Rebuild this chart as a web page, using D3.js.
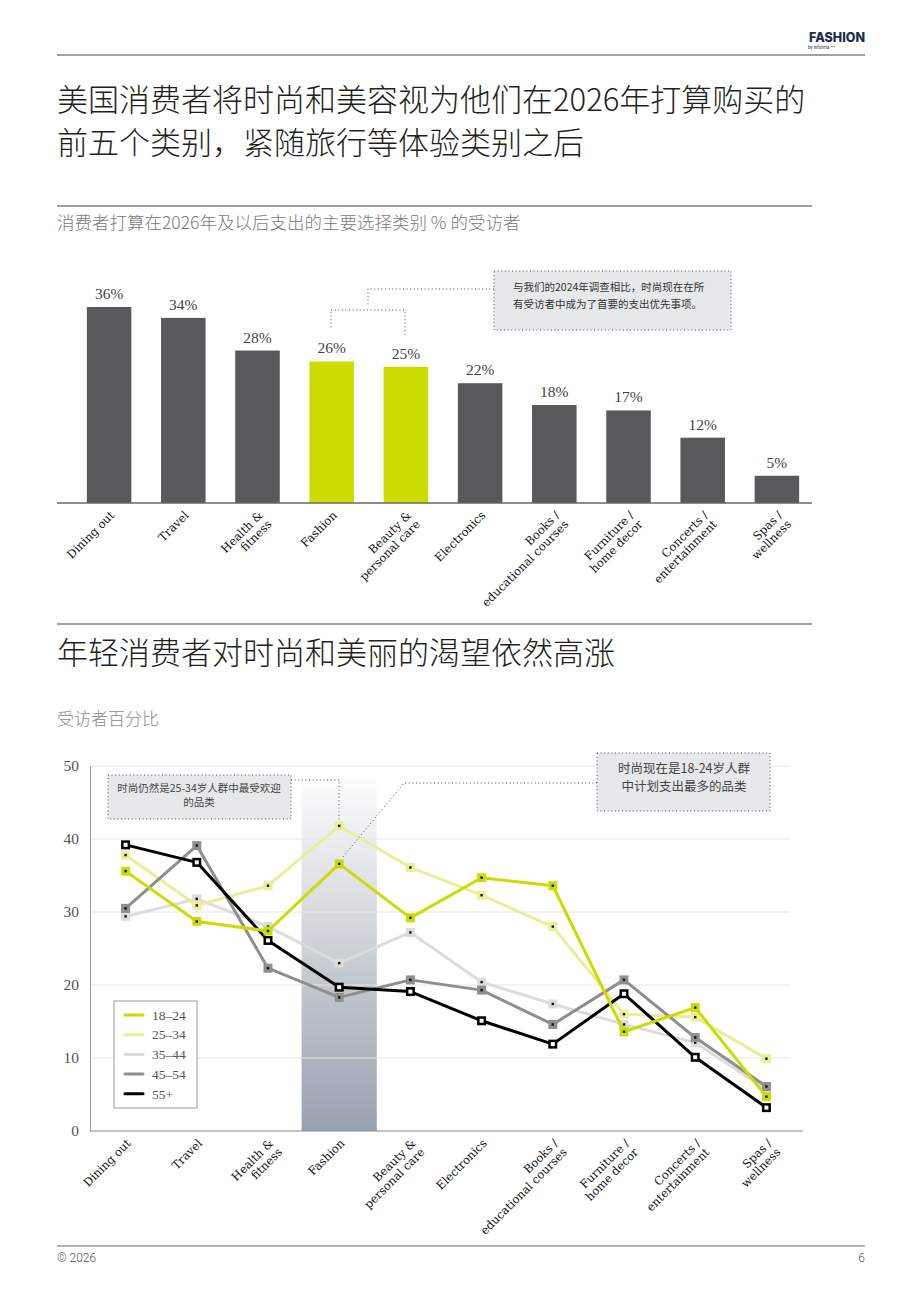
<!DOCTYPE html>
<html>
<head>
<meta charset="utf-8">
<script src="https://cdn.jsdelivr.net/npm/d3@7"></script>
<style>
  body { margin: 0; background: #fff; }
  svg { display: block; }
  .cjk { font-family: "Noto Sans CJK SC", "Noto Sans", sans-serif; }
  .serif { font-family: "Liberation Serif", serif; }
  .slab { font-family: "DejaVu Serif", serif; }
</style>
</head>
<body>
<div id="app"></div>
<script>
// data
var categories = ["Dining out", "Travel", "Health &\nfitness", "Fashion", "Beauty &\npersonal care",
  "Electronics", "Books /\neducational courses", "Furniture /\nhome decor", "Concerts /\nentertainment", "Spas /\nwellness"];
var barValues = [36, 34, 28, 26, 25, 22, 18, 17, 12, 5];
var highlighted = ["Fashion", "Beauty &\npersonal care"];

var ageGroups = ["18–24", "25–34", "35–44", "45–54", "55+"];
var s18to24 = [35.6, 28.7, 27.4, 36.6, 29.2, 34.7, 33.6, 13.6, 16.9, 4.7];
var s25to34 = [37.8, 30.9, 33.6, 41.8, 36.1, 32.3, 28.0, 16.0, 15.6, 9.9];
var s35to44 = [29.4, 31.8, 28.0, 23.0, 27.2, 20.4, 17.4, 14.6, 12.1, 5.7];
var s45to54 = [30.5, 39.1, 22.3, 18.3, 20.7, 19.3, 14.6, 20.7, 12.8, 6.1];
var s55plus = [39.2, 36.8, 26.1, 19.7, 19.1, 15.1, 11.9, 18.8, 10.1, 3.2];
var yTicks = [0, 10, 20, 30, 40, 50];

var seriesColors = ["#cddc00", "#e8ef96", "#dcdcdc", "#8e8e8e", "#000000"];

var W = 920, H = 1302;
var svg = d3.select("#app").append("svg")
  .attr("width", W).attr("height", H);

// header
svg.append("line").attr("x1", 57).attr("x2", 865).attr("y1", 55).attr("y2", 55)
  .attr("stroke", "#444").attr("stroke-width", 1);
svg.append("text").attr("x", 865).attr("y", 42).attr("text-anchor", "end")
  .style("font-family", "Inter, Roboto, sans-serif").style("font-weight", 800)
  .style("font-size", "12.5px").attr("fill", "#1c2b4b").text("FASHION");
svg.append("text").attr("x", 808).attr("y", 48.5)
  .style("font-family", "Roboto, sans-serif").style("font-size", "4.5px")
  .attr("fill", "#1c2b4b").text("by informa \u2022\u2022\u2022");

// title 1
var title1 = ["美国消费者将时尚和美容视为他们在2026年打算购买的", "前五个类别，紧随旅行等体验类别之后"];
svg.append("text").attr("class", "cjk").attr("x", 57).attr("y", 111)
  .style("font-size", "31px").style("font-weight", 300).attr("fill", "#231f20")
  .selectAll("tspan").data(title1).join("tspan")
  .attr("x", 57).attr("dy", (d, i) => i ? 43 : 0).text(d => d);

svg.append("line").attr("x1", 57).attr("x2", 812).attr("y1", 206).attr("y2", 206)
  .attr("stroke", "#444");
svg.append("text").attr("class", "cjk").attr("x", 57).attr("y", 229)
  .style("font-size", "17.5px").style("font-weight", 300).attr("fill", "#7a7a7a")
  .text("消费者打算在2026年及以后支出的主要选择类别 % 的受访者");

// bar chart
var barBase = 503;
var xBar = d3.scaleBand().domain(categories).range([72, 814]).paddingInner(0.4).paddingOuter(0.2);
var yBar = d3.scaleLinear().domain([0, 36]).range([barBase, 307]);

var barG = svg.append("g");
barG.selectAll("rect").data(categories).join("rect")
  .attr("x", d => xBar(d))
  .attr("y", (d, i) => yBar(barValues[i]))
  .attr("width", xBar.bandwidth())
  .attr("height", (d, i) => barBase - yBar(barValues[i]))
  .attr("fill", d => highlighted.includes(d) ? "#cddc00" : "#58595b");

barG.selectAll("text.val").data(categories).join("text")
  .attr("class", "val serif")
  .attr("x", d => xBar(d) + xBar.bandwidth() / 2)
  .attr("y", (d, i) => yBar(barValues[i]) - 8)
  .attr("text-anchor", "middle")
  .style("font-size", "15.5px").attr("fill", "#444")
  .text((d, i) => barValues[i] + "%");

svg.append("line").attr("x1", 57).attr("x2", 812).attr("y1", barBase).attr("y2", barBase)
  .attr("stroke", "#666").attr("stroke-width", 1.5);

function styleCatAxis(g, dx, dy) {
  g.select(".domain").remove();
  g.selectAll(".tick line").remove();
  g.selectAll(".tick text").each(function(d) {
    var t = d3.select(this);
    t.text(null).attr("x", 0).attr("y", 0).attr("dy", null);
    d.split("\n").forEach(function(l, i) {
      t.append("tspan").attr("x", 0).attr("dy", i ? "1.1em" : 0).text(l);
    });
  })
  .attr("class", "slab")
  .attr("text-anchor", "end")
  .attr("fill", "#111")
  .style("font-size", "11.5px")
  .attr("transform", "translate(" + dx + "," + dy + ") rotate(-45)");
}

svg.append("g").attr("transform", "translate(0," + barBase + ")")
  .call(d3.axisBottom(xBar).tickSize(0))
  .call(g => styleCatAxis(g, 6, 13));

// bar annotation
var note1 = ["与我们的2024年调查相比，时尚现在在所", "有受访者中成为了首要的支出优先事项。"];
var dotted = { stroke: "#3f4b69", dash: "1,2.6" };
function dotLine(pts) {
  svg.append("path").attr("d", d3.line()(pts)).attr("fill", "none")
    .attr("stroke", dotted.stroke).attr("stroke-width", 1).attr("stroke-dasharray", dotted.dash);
}
svg.append("rect").attr("x", 494).attr("y", 271).attr("width", 237).attr("height", 59)
  .attr("fill", "#e7e8ea").attr("stroke", dotted.stroke).attr("stroke-dasharray", dotted.dash);
svg.append("text").attr("class", "cjk").style("font-size", "10.5px").attr("fill", "#333")
  .selectAll("tspan").data(note1).join("tspan")
  .attr("x", 513).attr("y", (d, i) => 291 + i * 17).text(d => d);
dotLine([[494, 289], [368, 289], [368, 307]]);
dotLine([[331, 310], [405, 310]]);
dotLine([[331, 312], [331, 330]]);
dotLine([[405, 312], [405, 337]]);

// section 2
svg.append("line").attr("x1", 57).attr("x2", 812).attr("y1", 624).attr("y2", 624)
  .attr("stroke", "#444");
svg.append("text").attr("class", "cjk").attr("x", 57).attr("y", 664)
  .style("font-size", "31px").style("font-weight", 300).attr("fill", "#231f20")
  .text("年轻消费者对时尚和美丽的渴望依然高涨");
svg.append("text").attr("class", "cjk").attr("x", 57).attr("y", 725)
  .style("font-size", "17px").style("font-weight", 300).attr("fill", "#8a8a8a")
  .text("受访者百分比");

// line chart
var xLine = d3.scaleBand().domain(categories).range([90, 802]);
var yLine = d3.scaleLinear().domain([0, 50]).range([1131, 766]);
var cx = d => xLine(d) + xLine.bandwidth() / 2;

var defs = svg.append("defs");
var grad = defs.append("linearGradient").attr("id", "band").attr("x1", 0).attr("x2", 0).attr("y1", 0).attr("y2", 1);
grad.append("stop").attr("offset", "0%").attr("stop-color", "#ffffff");
grad.append("stop").attr("offset", "100%").attr("stop-color", "#98a1ae");

svg.append("rect").attr("x", xLine("Fashion") - 2).attr("y", 770)
  .attr("width", xLine.bandwidth() + 4).attr("height", 1131 - 770)
  .attr("fill", "url(#band)");

svg.append("g").selectAll("line").data(yTicks.filter(d => d > 0)).join("line")
  .attr("x1", 90).attr("x2", 790).attr("y1", d => yLine(d)).attr("y2", d => yLine(d))
  .attr("stroke", "#e6e6e6").attr("stroke-width", 1.2);

svg.append("g").attr("transform", "translate(90,0)")
  .call(d3.axisLeft(yLine).tickValues(yTicks).tickSize(0).tickPadding(11))
  .call(g => g.select(".domain").attr("stroke", "#999"))
  .call(g => g.selectAll(".tick text").attr("class", "serif")
    .style("font-size", "15.5px").attr("fill", "#555"));

svg.append("line").attr("x1", 90).attr("x2", 803).attr("y1", 1131).attr("y2", 1131)
  .attr("stroke", "#888").attr("stroke-width", 1.2);

svg.append("g").attr("transform", "translate(0,1131)")
  .call(d3.axisBottom(xLine).tickSize(0))
  .call(g => styleCatAxis(g, 6, 13));

var seriesData = [s18to24, s25to34, s35to44, s45to54, s55plus];
var drawOrder = [2, 1, 3, 4, 0];
var line = d3.line().x((d, i) => cx(categories[i])).y(d => yLine(d));

drawOrder.forEach(function(k) {
  var vals = seriesData[k], col = seriesColors[k];
  var g = svg.append("g");
  g.append("path").attr("d", line(vals)).attr("fill", "none")
    .attr("stroke", col).attr("stroke-width", 3).attr("stroke-linejoin", "round");
  g.selectAll("rect.m").data(vals).join("rect").attr("class", "m")
    .attr("x", (d, i) => cx(categories[i]) - 4.5).attr("y", d => yLine(d) - 4.5)
    .attr("width", 9).attr("height", 9).attr("fill", col);
  var inner = k === 4 ? 4 : 2.4;
  g.selectAll("rect.c").data(vals).join("rect").attr("class", "c")
    .attr("x", (d, i) => cx(categories[i]) - inner / 2).attr("y", d => yLine(d) - inner / 2)
    .attr("width", inner).attr("height", inner).attr("fill", k === 4 ? "#fff" : "#111");
});

// legend
var leg = svg.append("g").attr("transform", "translate(114,1001)");
leg.append("rect").attr("width", 83).attr("height", 107)
  .attr("fill", "#fff").attr("stroke", "#999").attr("stroke-width", 1);
var li = leg.selectAll("g").data(ageGroups).join("g")
  .attr("transform", (d, i) => "translate(0," + (14 + i * 19.7) + ")");
li.append("line").attr("x1", 11).attr("x2", 29).attr("stroke", (d, i) => seriesColors[i])
  .attr("stroke-width", 3).attr("stroke-linecap", "round");
li.append("text").attr("class", "serif").attr("x", 38).attr("dy", "0.35em")
  .style("font-size", "13.5px").attr("fill", "#555").text(d => d);

// line chart annotations
var note2 = ["时尚仍然是25-34岁人群中最受欢迎", "的品类"];
svg.append("rect").attr("x", 108).attr("y", 775).attr("width", 183).attr("height", 44)
  .attr("fill", "#e7e8ea").attr("stroke", dotted.stroke).attr("stroke-dasharray", dotted.dash);
svg.append("text").attr("class", "cjk").style("font-size", "10.5px").attr("fill", "#444")
  .attr("text-anchor", "middle")
  .selectAll("tspan").data(note2).join("tspan")
  .attr("x", 199).attr("y", (d, i) => 792 + i * 14).text(d => d);
dotLine([[291, 780], [339, 780], [339, 821]]);

var note3 = ["时尚现在是18-24岁人群", "中计划支出最多的品类"];
svg.append("rect").attr("x", 597).attr("y", 753).attr("width", 173).attr("height", 58)
  .attr("fill", "#e7e8ea").attr("stroke", dotted.stroke).attr("stroke-dasharray", dotted.dash);
svg.append("text").attr("class", "cjk").style("font-size", "12.5px").attr("fill", "#444")
  .attr("text-anchor", "middle")
  .selectAll("tspan").data(note3).join("tspan")
  .attr("x", 684).attr("y", (d, i) => 773 + i * 18).text(d => d);
dotLine([[597, 783], [404, 783], [342, 858]]);

// footer
svg.append("line").attr("x1", 57).attr("x2", 865).attr("y1", 1246).attr("y2", 1246)
  .attr("stroke", "#666");
svg.append("text").attr("x", 57).attr("y", 1262)
  .style("font-family", "Roboto, sans-serif").style("font-size", "12px").style("font-weight", 300)
  .attr("fill", "#555").text("© 2026");
svg.append("text").attr("x", 865).attr("y", 1262).attr("text-anchor", "end")
  .style("font-family", "Roboto, sans-serif").style("font-size", "12px").style("font-weight", 300)
  .attr("fill", "#555").text("6");
</script>
</body>
</html>
